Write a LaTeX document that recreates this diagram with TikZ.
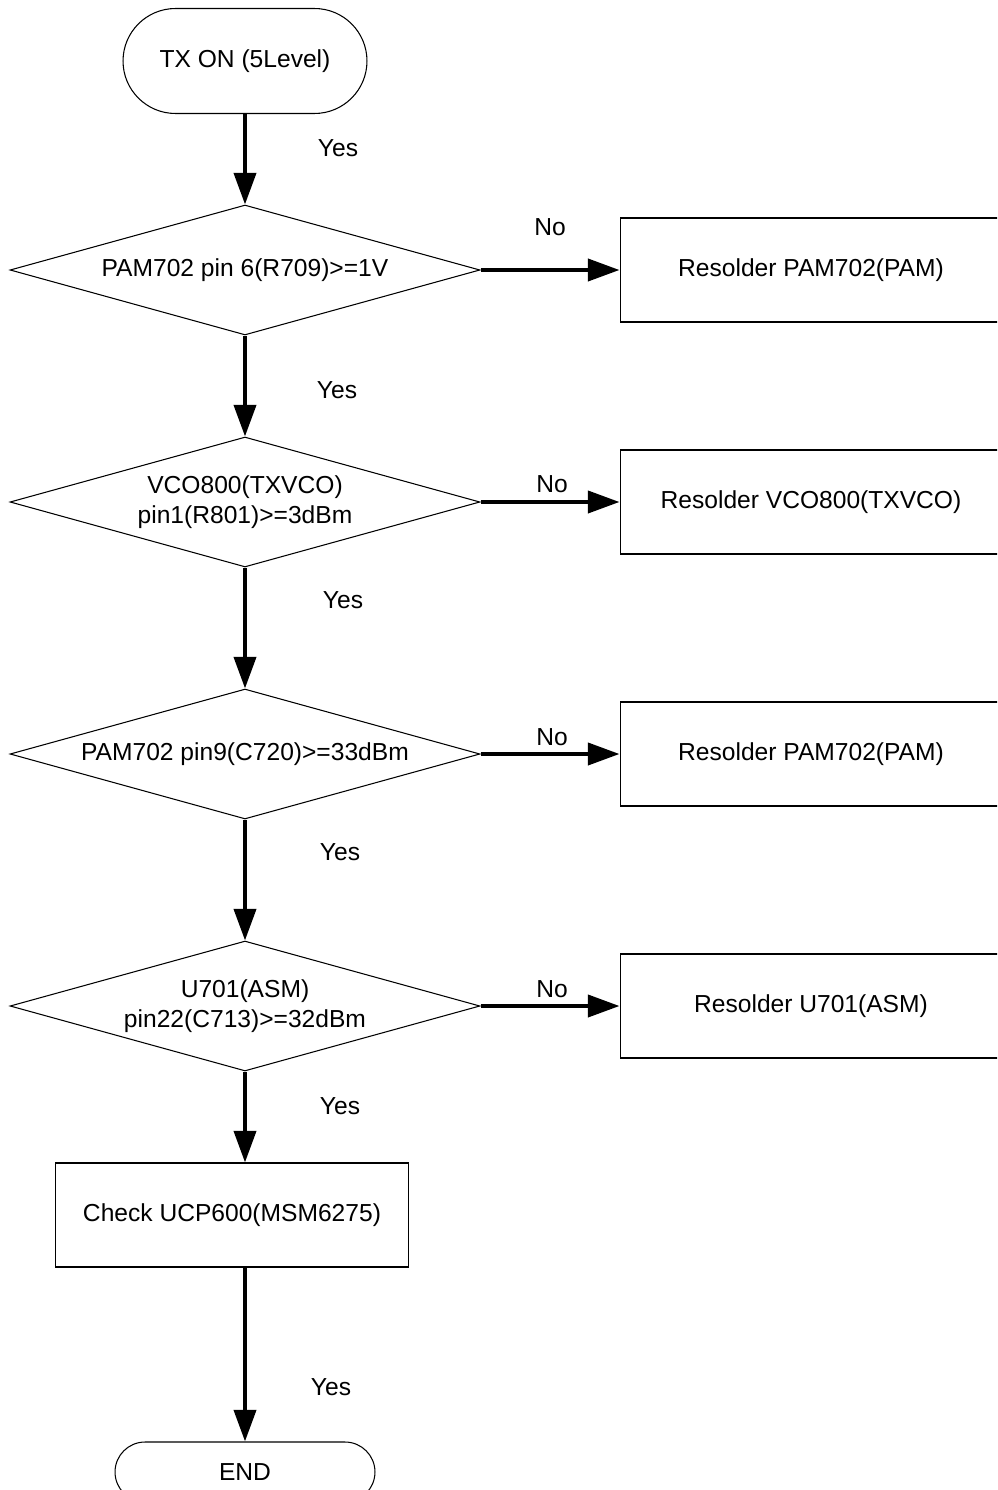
\documentclass[tikz,border=0pt]{standalone}
\usepackage{fontspec}
\setmainfont{Liberation Sans}
\usetikzlibrary{shapes.geometric}
\usetikzlibrary{arrows.meta}
\usetikzlibrary{positioning}

\begin{document}
\begin{tikzpicture}[
  x=0.02cm, y=-0.02cm,
  every node/.style={font=\fontsize{14}{17}\selectfont, align=center},
  term/.style={draw, line width=0.6pt, rectangle, rounded corners=1.05cm, minimum width=4.88cm, minimum height=2.1cm},
  test/.style={draw, line width=0.6pt, diamond, aspect=3.6, inner sep=0pt, minimum width=9.4cm, minimum height=2.6cm},
  fix/.style={draw, line width=0.6pt, rectangle, minimum width=7.64cm, minimum height=2.08cm},
  flow/.style={-{Triangle[length=18pt, width=12.5pt]}, line width=2.3pt},
]
  \useasboundingbox (0,0) rectangle (997,1490);
  \clip (0,0) rectangle (997,1490);

  % Nodes
  \node[term] (start) at (245, 61)   {TX ON (5Level)};
  \node[test] (t1) at (245, 270)  {PAM702 pin 6(R709)>=1V};
  \node[test] (t2) at (245, 502)  {VCO800(TXVCO)\\pin1(R801)>=3dBm};
  \node[test] (t3) at (245, 754)  {PAM702 pin9(C720)>=33dBm};
  \node[test] (t4) at (245, 1006) {U701(ASM)\\pin22(C713)>=32dBm};
  \node[fix] (f1) at (811, 270)  {Resolder PAM702(PAM)};
  \node[fix] (f2) at (811, 502)  {Resolder VCO800(TXVCO)};
  \node[fix] (f3) at (811, 754)  {Resolder PAM702(PAM)};
  \node[fix] (f4) at (811, 1006) {Resolder U701(ASM)};
  \node[fix, minimum width=7.08cm] (check) at (232, 1215) {Check UCP600(MSM6275)};
  \node[term, minimum width=5.2cm, minimum height=1.2cm, rounded corners=0.6cm] (end) at (245, 1472) {END};

  % Labels
  \node (y1) at (338, 148)  {Yes};
  \node (y2) at (337, 390)  {Yes};
  \node (y3) at (343, 600)  {Yes};
  \node (y4) at (340, 852)  {Yes};
  \node (y5) at (340, 1106) {Yes};
  \node (y6) at (331, 1387) {Yes};
  \node (n1) at (550, 227)  {No};
  \node (n2) at (552, 484)  {No};
  \node (n3) at (552, 737)  {No};
  \node (n4) at (552, 989)  {No};

  % Edges
  \draw[flow] (start) -- (t1);
  \draw[flow] (t1) -- (t2);
  \draw[flow] (t2) -- (t3);
  \draw[flow] (t3) -- (t4);
  \draw[flow] (t4) -- (t4 |- check.north);
  \draw[flow] (check.south -| end) -- (end);
  \draw[flow] (t1) -- (f1);
  \draw[flow] (t2) -- (f2);
  \draw[flow] (t3) -- (f3);
  \draw[flow] (t4) -- (f4);

\end{tikzpicture}
\end{document}
